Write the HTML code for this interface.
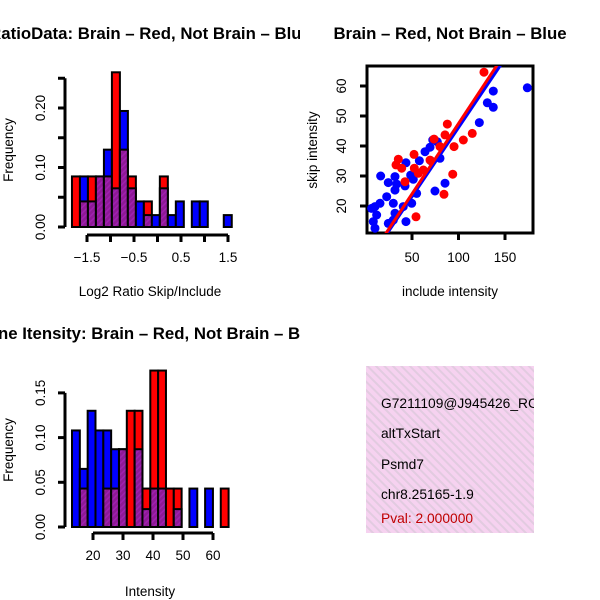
<!DOCTYPE html>
<html><head><meta charset="utf-8"><style>
body{margin:0;background:#fff;}
svg{display:block;font-family:"Liberation Sans",sans-serif;}
</style></head><body>
<svg id="c" width="600" height="600" viewBox="0 0 600 600" xmlns="http://www.w3.org/2000/svg">
<defs>
<pattern id="hatch" width="4" height="4" patternUnits="userSpaceOnUse" patternTransform="rotate(45)">
<rect width="4" height="4" fill="#8e1a96"/><rect width="1.5" height="4" fill="#a020b0"/>
</pattern>
<pattern id="pinkhatch" width="6" height="6" patternUnits="userSpaceOnUse" patternTransform="rotate(-45)">
<rect width="6" height="6" fill="#f6d2f0"/><rect width="2" height="6" fill="#e2cbe0"/>
</pattern>
<clipPath id="clipL"><rect x="0" y="0" width="300" height="600"/></clipPath>
<clipPath id="clipBox"><rect x="367" y="66" width="166" height="167"/></clipPath>
<clipPath id="clipInfo"><rect x="366" y="366" width="168" height="167"/></clipPath>
</defs>
<g id="h1"></g>
<g id="h2"></g>
<g id="sc"></g>
<g>
<rect x="366" y="366" width="168" height="167" fill="url(#pinkhatch)"/>
<g clip-path="url(#clipInfo)" font-size="13.8" fill="#000">
<text x="381" y="408">G7211109@J945426_RC</text>
<text x="381" y="438">altTxStart</text>
<text x="381" y="469">Psmd7</text>
<text x="381" y="499">chr8.25165-1.9</text>
<text x="381" y="523" fill="#c00000">Pval: 2.000000</text>
</g>
</g>
</svg>
<script>
// ---- Histogram 1 data (Log2 ratio) ----
const h1BinStart = -1.82;
const h1BinWidth = 0.170;
const h1Red  = [0.085,0.043,0.085,0.085,0.085,0.26,0.13,0.085,0,0.043,0,0.085,0,0,0,0,0,0,0,0];
const h1Blue = [0,0.085,0.043,0.085,0.13,0.065,0.195,0.065,0.043,0.02,0.02,0.065,0.02,0.043,0,0.043,0.043,0,0,0.02];
const h1XTicks = [-1.5,-1,-0.5,0,0.5,1,1.5];
const h1XLabels = ["\u22121.5","","\u22120.5","","0.5","","1.5"];
const h1YTicks = [0,0.05,0.10,0.15,0.20,0.25];
const h1YLabels = ["0.00","","0.10","","0.20",""];
// ---- Histogram 2 data (Intensity) ----
const h2BinStart = 13;
const h2BinWidth = 2.61;
const h2Red  = [0,0.043,0,0,0.043,0.043,0.087,0.13,0.13,0.043,0.175,0.175,0.043,0.043,0,0,0,0,0,0.043];
const h2Blue = [0.108,0.065,0.13,0.108,0.108,0.087,0.087,0,0.087,0.02,0.043,0.043,0,0.02,0,0.043,0,0.043,0,0];
const h2XTicks = [20,30,40,50,60];
const h2YTicks = [0,0.05,0.10,0.15];
const h2YLabels = ["0.00","0.05","0.10","0.15"];
// ---- Scatter data ----
const blueX = [174,137.4,131,137.4,122.4,72.3,77.2,69.4,64,80.1,70.1,57.9,43.5,16.3,31.7,48.6,51.4,24.5,33.5,42.5,55,74.7,85.5,22.8,31.7,15.6,10.2,29.9,40.6,6.6,12,31.7,8.4,24.5,43.5,10.2,29.9,49.7];
const blueY = [59.4,58.3,54.4,52.9,47.8,42,41.4,39.6,38.1,35.9,35.1,35.1,34.4,30,29.8,30.3,28.9,27.8,27.3,26.7,24.2,25,27.6,23.1,25.3,20.9,19.8,20.9,19.8,19.2,17,17.6,14.8,14.2,14.8,12.6,15.3,20.9];
const redX = [127.4,88,73.7,85.5,95.2,105.2,114.8,80.1,35.3,32.8,38.9,52.2,52.5,56.8,69.4,93.8,42.5,84.4,54.3,62.2];
const redY = [64.6,47.3,42.3,43.7,39.8,42,44.2,39.8,35.6,33.7,32.6,37.2,32.6,30.9,35.3,30.6,28.1,23.9,16.4,32];
const fitRed = [0.58,0.469];   // intercept, slope
const fitBlue = [0.13,0.460];
const scXTicks = [50,100,150];
const scYTicks = [20,30,40,50,60];

const FS = 13.5;
const NS="http://www.w3.org/2000/svg";
function mk(parent,tag,attrs,txt){const e=document.createElementNS(NS,tag);for(const k in attrs)e.setAttribute(k,attrs[k]);if(txt!==undefined)e.textContent=txt;parent.appendChild(e);return e;}

function hist(g,o){
  const sx=v=>o.x0px+(v-o.x0)*o.kx, sy=v=>o.y0px-v*o.ky;
  const n=o.red.length;
  for(let i=0;i<n;i++){
    const r=o.red[i],b=o.blue[i];
    if(r===0&&b===0)continue;
    const xa=sx(o.binStart+i*o.binW), xb=sx(o.binStart+(i+1)*o.binW);
    const hi=Math.max(r,b), lo=Math.min(r,b);
    const bar=mk(g,'rect',{x:xa,y:sy(hi),width:xb-xa,height:sy(0)-sy(hi),fill:r>=b?'#ff0000':'#0000ff',stroke:'#000','stroke-width':2});
    
    
    if(lo>0){
      const ov=mk(g,'rect',{x:xa,y:sy(lo),width:xb-xa,height:sy(0)-sy(lo),fill:'url(#hatch)',stroke:'#000','stroke-width':2});
      
      
    }
  }
  const ya=mk(g,'g',{});
  
  
  const yt=o.yTicks;
  mk(ya,'line',{x1:o.yAxX,x2:o.yAxX,y1:sy(yt[0]),y2:sy(yt[yt.length-1]),stroke:'#000','stroke-width':3});
  yt.forEach((t,i)=>{
    mk(ya,'line',{x1:o.yAxX-7,x2:o.yAxX,y1:sy(t),y2:sy(t),stroke:'#000','stroke-width':3});
    if(o.yLabels[i]){const tx=mk(ya,'text',{x:0,y:0,'font-size':FS,'text-anchor':'middle',transform:`translate(${o.yAxX-20},${sy(t)}) rotate(-90)`},o.yLabels[i]);
      }
  });
  const xa=mk(g,'g',{});
  
  
  const xt=o.xTicks;
  mk(xa,'line',{x1:sx(xt[0]),x2:sx(xt[xt.length-1]),y1:o.xAxY,y2:o.xAxY,stroke:'#000','stroke-width':3});
  xt.forEach((t,i)=>{
    mk(xa,'line',{x1:sx(t),x2:sx(t),y1:o.xAxY,y2:o.xAxY+7,stroke:'#000','stroke-width':3});
    if(o.xLabels[i]){const tx=mk(xa,'text',{x:sx(t),y:o.xAxY+27,'font-size':FS,'text-anchor':'middle'},o.xLabels[i]);
      }
  });
  const yl=mk(g,'text',{x:0,y:0,'font-size':FS,'text-anchor':'middle',transform:`translate(13,${o.yTitleY}) rotate(-90)`},'Frequency');
  
  const xl=mk(g,'text',{x:150,y:o.xTitleY,'font-size':FS,'text-anchor':'middle'},o.xTitle);
  
  const tt=mk(g,'text',{x:150,y:o.titleY,'font-size':16.8,'font-weight':'bold','text-anchor':'middle','clip-path':'url(#clipL)'},o.title);
  
}

hist(document.getElementById('h1'),{x0:-1.5,x0px:87,kx:47,y0px:227,ky:595,binStart:h1BinStart,binW:h1BinWidth,red:h1Red,blue:h1Blue,
  xTicks:h1XTicks,xLabels:h1XLabels,yTicks:h1YTicks,yLabels:h1YLabels,yAxX:65,xAxY:235,yTitleY:150,xTitleY:296,
  xTitle:'Log2 Ratio Skip/Include',titleY:39,title:'RatioData: Brain \u2013 Red, Not Brain \u2013 Blue'});
hist(document.getElementById('h2'),{x0:20,x0px:93,kx:3.0,y0px:527,ky:894,binStart:h2BinStart,binW:h2BinWidth,red:h2Red,blue:h2Blue,
  xTicks:h2XTicks,xLabels:h2XTicks.map(String),yTicks:h2YTicks,yLabels:h2YLabels,yAxX:65,xAxY:533,yTitleY:450,xTitleY:596,
  xTitle:'Intensity',titleY:339,title:'Gene Itensity: Brain \u2013 Red, Not Brain \u2013 Blue'});

(function(){
  const g=document.getElementById('sc');
  const sx=v=>365.5+v*0.93, sy=v=>266-v*3;
  const box=mk(g,'rect',{x:367,y:66,width:166,height:167,fill:'none',stroke:'#000','stroke-width':3});
  
  const pts=mk(g,'g',{'clip-path':'url(#clipBox)'});
  blueX.forEach((x,i)=>{const c=mk(pts,'circle',{cx:sx(x),cy:sy(blueY[i]),r:4.5,fill:'#0000ff'});
    });
  redX.forEach((x,i)=>{const c=mk(pts,'circle',{cx:sx(x),cy:sy(redY[i]),r:4.5,fill:'#ff0000'});
    });
  [[fitBlue,'#0000ff','fit-line-blue'],[fitRed,'#ff0000','fit-line-red']].forEach(([f,col,nm])=>{
    const l=mk(pts,'line',{x1:sx(0),y1:sy(f[0]),x2:sx(200),y2:sy(f[0]+f[1]*200),stroke:col,'stroke-width':3});
    
  });
  scXTicks.forEach(t=>{mk(g,'line',{x1:sx(t),x2:sx(t),y1:233,y2:240,stroke:'#000','stroke-width':3});
    const tx=mk(g,'text',{x:sx(t),y:262,'font-size':FS,'text-anchor':'middle'},String(t));
    });
  scYTicks.forEach(t=>{mk(g,'line',{x1:360,x2:367,y1:sy(t),y2:sy(t),stroke:'#000','stroke-width':3});
    const tx=mk(g,'text',{x:0,y:0,'font-size':FS,'text-anchor':'middle',transform:`translate(346,${sy(t)}) rotate(-90)`},String(t));
    });
  const xl=mk(g,'text',{x:450,y:296,'font-size':FS,'text-anchor':'middle'},'include intensity');
  
  const yl=mk(g,'text',{x:0,y:0,'font-size':FS,'text-anchor':'middle',transform:'translate(317,150) rotate(-90)'},'skip intensity');
  
  const tt=mk(g,'text',{x:450,y:39,'font-size':16.8,'font-weight':'bold','text-anchor':'middle'},'Brain \u2013 Red, Not Brain \u2013 Blue');
  
})();
</script>
</body></html>
